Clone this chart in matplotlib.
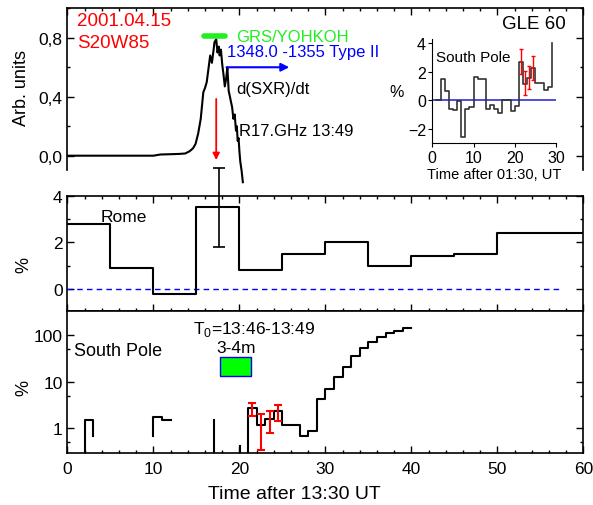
import numpy as np
import matplotlib
matplotlib.use('Agg')
import matplotlib.pyplot as plt
from matplotlib.ticker import MultipleLocator, FuncFormatter, LogLocator, NullFormatter
from matplotlib.patches import Rectangle

plt.rcParams['font.family'] = ['Liberation Sans', 'DejaVu Sans']
plt.rcParams['mathtext.fontset'] = 'custom'
plt.rcParams['mathtext.rm'] = 'Liberation Sans'

# top panel: d(SXR)/dt, arbitrary units
sxr_t = [0, 2, 4, 6, 8, 10, 10.8, 12, 13, 13.7, 14.2, 14.6, 14.9, 15.2, 15.5, 15.8, 16.0,
         16.2, 16.4, 16.6, 16.8, 17.0, 17.1, 17.3, 17.45, 17.6, 17.7, 17.85, 18.0, 18.15,
         18.3, 18.45, 18.6, 18.75, 18.9, 19.0, 19.15, 19.3, 19.45, 19.6, 19.7, 19.8, 19.9,
         20.0, 20.1, 20.25, 20.4]
sxr_v = [0, 0, 0, 0, 0, 0.0, 0.008, 0.01, 0.012, 0.015, 0.03, 0.05, 0.08, 0.15, 0.25, 0.43,
         0.46, 0.50, 0.59, 0.68, 0.63, 0.72, 0.77, 0.79, 0.70, 0.74, 0.68, 0.72, 0.62, 0.55,
         0.47, 0.52, 0.60, 0.44, 0.40, 0.37, 0.33, 0.25, 0.28, 0.17, 0.20, 0.10, 0.12, 0.03,
         -0.04, -0.10, -0.18]

# Rome neutron monitor, %
rome_t = [0, 5, 10, 15, 20, 25, 30, 35, 40, 45, 50, 60]
rome_v = [2.8, 0.9, -0.2, 3.5, 0.8, 1.5, 2.0, 1.0, 1.4, 1.5, 2.4, 2.4]
rome_err_t, rome_err_v, rome_err = 17.6, 3.5, 1.7

# South Pole, log panel (pieces)
sp_t1, sp_v1 = [1, 2, 3], [0.1, 1.5, 0.7]
sp_t2, sp_v2 = [10, 10, 11, 12], [0.69, 1.75, 1.5, 1.5]
sp_t3, sp_v3 = [16, 17], [0.1, 1.5]
sp_t4, sp_v4 = [19.5, 20.1], [0.1, 0.42]
sp_t5 = [20.5, 21, 22, 23, 24, 25, 27, 28, 29, 30, 31, 32, 33, 34, 35, 36, 37, 38, 39, 40]
sp_v5 = [0.1, 2.75, 1.15, 1.6, 2.3, 1.2, 0.7, 0.88, 4.2, 6.9, 12.8, 20.3, 36, 52, 70, 89,
         108, 123, 138, 138]

# South Pole inset (time after 01:30)
in_t = [1, 2, 3, 4, 5, 6, 7, 8, 9, 10, 11, 12, 13, 14, 15, 16, 17, 18, 19, 20, 21, 22, 23,
        24, 25, 26, 27, 28, 29]
in_v = [0.05, 1.5, 0.65, -0.6, -0.7, -0.05, -2.55, -0.6, -0.45, 1.65, 1.5, 1.5, -0.6, -0.35,
        -0.6, -0.9, 0.05, 0.0, -0.75, -0.4, 2.7, 1.15, 1.55, 2.25, 1.2, 1.2, 0.7, 0.9, 4.0]

eb_t = [21.5, 22.5, 23.5, 24.5]
eb_v = [2.7, 1.2, 1.6, 2.25]
eb_err = [0.85, 0.85, 0.8, 0.85]

fig = plt.figure(figsize=(5.93, 5.06), dpi=100)
L, W = 0.1138, 0.8698
ax_top = fig.add_axes([L, 0.6350, W, 0.3466])
ax_mid = fig.add_axes([L, 0.3840, W, 0.2273])
ax_bot = fig.add_axes([L, 0.1034, W, 0.2806])
ax_in = fig.add_axes([0.7290, 0.7148, 0.2086, 0.2067])

fs = 12.5
for ax in (ax_top, ax_mid, ax_bot):
    ax.set_xlim(0, 60)
    ax.xaxis.set_major_locator(MultipleLocator(10))
    ax.xaxis.set_minor_locator(MultipleLocator(2))
    ax.tick_params(which='both', direction='in', labelsize=fs, width=1)
    ax.tick_params(which='major', length=5)
    ax.tick_params(which='minor', length=2.5)
    for s in ax.spines.values():
        s.set_linewidth(1.2)

# ---- top panel
ax_top.set_ylim(-0.19, 1.0)
ax_top.spines['bottom'].set_visible(False)
ax_top.spines['left'].set_bounds(-0.1, 1.0)
ax_top.spines['right'].set_bounds(-0.1, 1.0)
ax_top.yaxis.set_major_locator(MultipleLocator(0.4))
ax_top.yaxis.set_minor_locator(MultipleLocator(0.2))
ax_top.yaxis.set_major_formatter(FuncFormatter(lambda v, p: f'{v:.1f}'.replace('.', ',')))
ax_top.tick_params(which='both', bottom=False, top=True, labelbottom=False, right=True)
ax_top.plot(sxr_t, sxr_v, color='black', lw=1.5)
ax_top.plot([15.9, 18.3], [0.81, 0.81], color='#22ee22', lw=4, solid_capstyle='round')
ax_top.text(19.6, 0.81, 'GRS/YOHKOH', color='#22ee22', fontsize=12, va='center')
ax_top.text(18.6, 0.705, '1348.0 -1355 Type II', color='blue', fontsize=12, va='center')
ax_top.annotate('', xy=(25.8, 0.6), xytext=(18.5, 0.6),
                arrowprops=dict(arrowstyle='-|>', color='blue', lw=1.5, mutation_scale=12,
                                shrinkA=0, shrinkB=0))
ax_top.text(19.6, 0.455, 'd(SXR)/dt', color='black', fontsize=12, va='center')
ax_top.text(20.0, 0.17, 'R17.GHz 13:49', color='black', fontsize=12, va='center')
ax_top.annotate('', xy=(17.3, -0.03), xytext=(17.3, 0.385),
                arrowprops=dict(arrowstyle='-|>', color='red', lw=1.3, mutation_scale=10,
                                shrinkA=0, shrinkB=0))
ax_top.text(1.1, 0.92, '2001.04.15', color='red', fontsize=13.5, va='center')
ax_top.text(1.1, 0.765, 'S20W85', color='red', fontsize=13.5, va='center')
ax_top.text(58.0, 0.90, 'GLE 60', color='black', fontsize=13.5, va='center', ha='right')

# ---- inset
ax_in.set_xlim(0, 30)
ax_in.set_ylim(-3.0, 4.3)
ax_in.patch.set_alpha(0)
ax_in.spines['top'].set_visible(False)
ax_in.spines['right'].set_visible(False)
ax_in.xaxis.set_major_locator(MultipleLocator(10))
ax_in.yaxis.set_major_locator(MultipleLocator(2))
ax_in.tick_params(direction='out', length=3, labelsize=11.5, pad=1.5)
ax_in.plot([0, 30], [0, 0], color='#3030dd', lw=1.2)
ax_in.plot(in_t, in_v, drawstyle='steps-post', color='#333333', lw=1.2)
ax_in.errorbar(eb_t, eb_v, yerr=eb_err, fmt='none', ecolor='red', elinewidth=1,
               capsize=1.5, capthick=1)
ax_in.text(0.8, 3.0, 'South Pole', fontsize=11, va='center')
ax_in.set_xlabel('Time after 01:30, UT', fontsize=10.5, labelpad=2)
ax_in.set_ylabel('%', fontsize=11.5, rotation=0, va='center', labelpad=8)

# ---- middle panel
ax_mid.set_ylim(-0.93, 4)
ax_mid.yaxis.set_major_locator(MultipleLocator(2))
ax_mid.yaxis.set_minor_locator(MultipleLocator(1))
ax_mid.tick_params(which='both', top=True, right=True, labelbottom=False)
ax_mid.plot([0, 57.5], [0, 0], color='blue', lw=1, ls=(0, (4, 3)))
ax_mid.plot(rome_t, rome_v, drawstyle='steps-post', color='black', lw=1.5)
eb = ax_mid.errorbar(rome_err_t, rome_err_v, yerr=rome_err, fmt='none', ecolor='black',
                     elinewidth=1.2, capsize=4, capthick=1.2)
for a in eb.lines[1] + eb.lines[2]:
    a.set_clip_on(False)
ax_mid.text(3.8, 3.1, 'Rome', fontsize=12.5, va='center')

# ---- bottom panel
ax_bot.set_yscale('log')
ax_bot.set_ylim(0.3, 330)
ax_bot.yaxis.set_major_locator(LogLocator(base=10, numticks=10))
ax_bot.yaxis.set_minor_locator(LogLocator(base=10, subs=[5], numticks=10))
ax_bot.yaxis.set_major_formatter(FuncFormatter(lambda v, p: f'{v:g}'))
ax_bot.yaxis.set_minor_formatter(NullFormatter())
ax_bot.tick_params(which='both', top=False, right=True)
ax_bot.tick_params(axis='x', pad=6)
for t, v in ((sp_t1, sp_v1), (sp_t2, sp_v2), (sp_t3, sp_v3), (sp_t4, sp_v4), (sp_t5, sp_v5)):
    ax_bot.plot(t, v, drawstyle='steps-post', color='black', lw=1.5)
ax_bot.errorbar(eb_t, eb_v, yerr=eb_err, fmt='none', ecolor='red', elinewidth=1.5,
                capsize=3, capthick=1.5)
ax_bot.add_patch(Rectangle((17.7, 13), 3.7, 20, facecolor='#00ff00', edgecolor='blue', lw=1))
ax_bot.text(0.7, 47, 'South Pole', fontsize=13, va='center')
ax_bot.text(14.6, 135, 'T$_0$=13:46-13:49', fontsize=12.5, va='center')
ax_bot.text(19.6, 55, '3-4m', fontsize=12.5, va='center', ha='center')

# axis labels
fig.text(22 / 593, 1 - 88 / 506, 'Arb. units', rotation=90, ha='center', va='center', fontsize=13)
fig.text(24 / 593, 1 - 265 / 506, '%', rotation=90, ha='center', va='center', fontsize=13)
fig.text(24 / 593, 1 - 388 / 506, '%', rotation=90, ha='center', va='center', fontsize=13)
fig.text(294 / 593, 1 - 495 / 506, 'Time after 13:30 UT', ha='center', va='center', fontsize=14)

fig.savefig('out.png', dpi=100)
